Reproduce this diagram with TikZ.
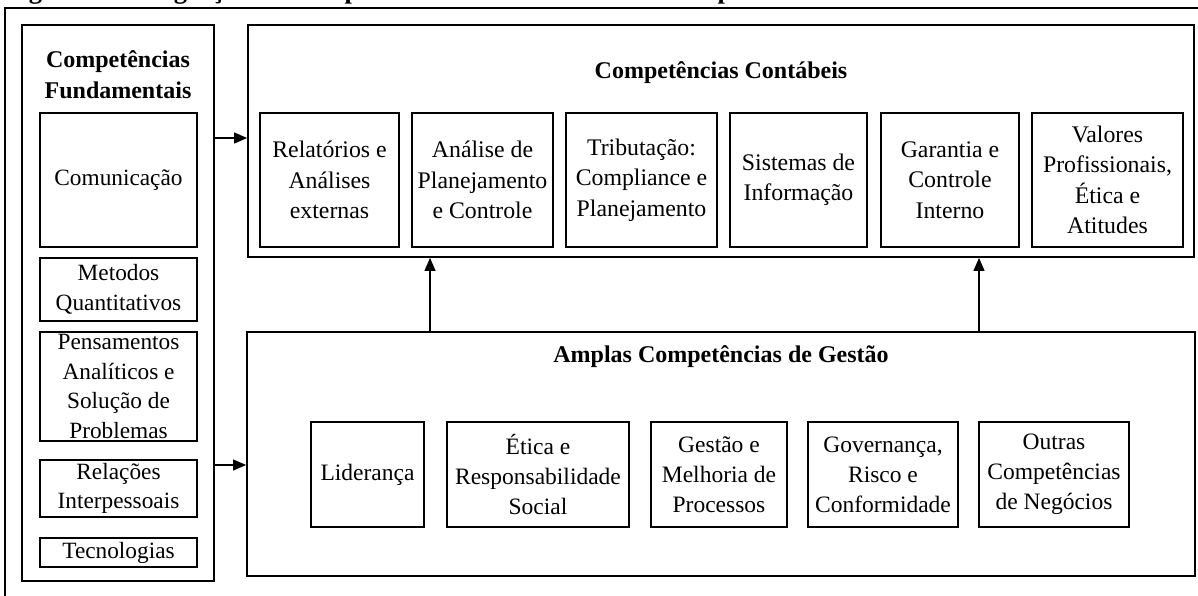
\documentclass[tikz,border=0pt]{standalone}
\usepackage{fontspec}
\setmainfont{Liberation Serif}
\usetikzlibrary{arrows.meta}
\begin{document}
\begin{tikzpicture}[x=1pt,y=-1pt,
  outerbox/.style={draw, line width=1.8pt, inner sep=0pt},
  cbox/.style={draw, line width=1.8pt, align=center, inner sep=0pt,
    font=\fontsize{23.8}{30.5}\selectfont},
  gbox/.style={draw, line width=1.4pt, align=center, inner sep=0pt,
    font=\fontsize{23.5}{30}\selectfont},
  fbox/.style={draw, line width=1.8pt, align=center, inner sep=0pt,
    minimum width=157pt, font=\fontsize{23.3}{29.5}\selectfont},
  heading/.style={align=center, inner sep=0pt, font=\bfseries\fontsize{24}{31}\selectfont},
  arr/.style={line width=1.1pt, -{Triangle[length=13pt,width=11pt]}},
  tableline/.style={line width=1.8pt}
]
\useasboundingbox (0,0) rectangle (1198,595);

% cut-off caption and table border
\node[anchor=base west, inner sep=0pt, font=\bfseries\fontsize{26.5}{30}\selectfont] (cap) at (5,-1.5)
  {Figura 1 -- Integração de Competências: Uma Estrutura Geral para o Ensino de Contabilidade};
\coordinate (tl) at (5,8);
\coordinate (tr) at (1200,8);
\coordinate (bl) at (5,600);
\draw[tableline] (tr) -- (tl) -- (bl);

% Competências Fundamentais
\node[outerbox, minimum width=192pt, minimum height=556pt] (fund) at (118,303) {};
\node[heading] (fundt) at (118,75) {Competências\\Fundamentais};
\node[fbox, minimum height=134pt] (comm) at (118.5,180) {Comunicação};
\node[fbox, minimum height=63pt] (quant) at (118.5,289.5) {Metodos\\Quantitativos};
\node[fbox, minimum height=109pt] (pens) at (118.5,386.5) {Pensamentos\\Analíticos e\\Solução de\\Problemas};
\node[fbox, minimum height=57pt] (rel) at (118.5,488.5) {Relações\\Interpessoais};
\node[fbox, minimum height=29pt] (tec) at (118.5,552.5) {Tecnologias};

% Competências Contábeis
\node[outerbox, minimum width=946pt, minimum height=232pt] (cont) at (721,141) {};
\node[heading] (contt) at (721,73) {Competências Contábeis};
\node[cbox, minimum width=139pt, minimum height=134pt] (c1) at (329.5,180) {Relatórios e\\Análises\\externas};
\node[cbox, minimum width=141pt, minimum height=134pt] (c2) at (482.5,180) {Análise de\\Planejamento\\e Controle};
\node[cbox, minimum width=151pt, minimum height=134pt] (c3) at (641.5,180) {Tributação:\\Compliance e\\Planejamento};
\node[cbox, minimum width=137pt, minimum height=134pt] (c4) at (798.5,180) {Sistemas de\\Informação};
\node[cbox, minimum width=138pt, minimum height=134pt] (c5) at (950,180) {Garantia e\\Controle\\Interno};
\node[cbox, minimum width=151pt, minimum height=134pt] (c6) at (1107.5,180) {Valores\\Profissionais,\\Ética e\\Atitudes};

% Amplas Competências de Gestão
\node[outerbox, minimum width=948pt, minimum height=244pt] (ampl) at (721,454) {};
\node[heading] (amplt) at (721,357) {Amplas Competências de Gestão};
\node[gbox, minimum width=113pt, minimum height=105pt] (g1) at (367.5,474.5) {Liderança};
\node[gbox, minimum width=182pt, minimum height=105pt] (g2) at (538,474.5) {Ética e\\Responsabilidade\\Social};
\node[gbox, minimum width=136pt, minimum height=105pt] (g3) at (719,474.5) {Gestão e\\Melhoria de\\Processos};
\node[gbox, minimum width=150pt, minimum height=105pt] (g4) at (883,474.5) {Governança,\\Risco e\\Conformidade};
\node[gbox, minimum width=150pt, minimum height=105pt] (g5) at (1054,474.5) {Outras\\Competências\\de Negócios};

% connectors
\draw[arr] (fund.east |- 0,138) -- (cont.west |- 0,138);
\draw[arr] (fund.east |- 0,465) -- (ampl.west |- 0,465);
\draw[arr] (ampl.north -| 430,0) -- (cont.south -| 430,0);
\draw[arr] (ampl.north -| 979,0) -- (cont.south -| 979,0);
\end{tikzpicture}
\end{document}
